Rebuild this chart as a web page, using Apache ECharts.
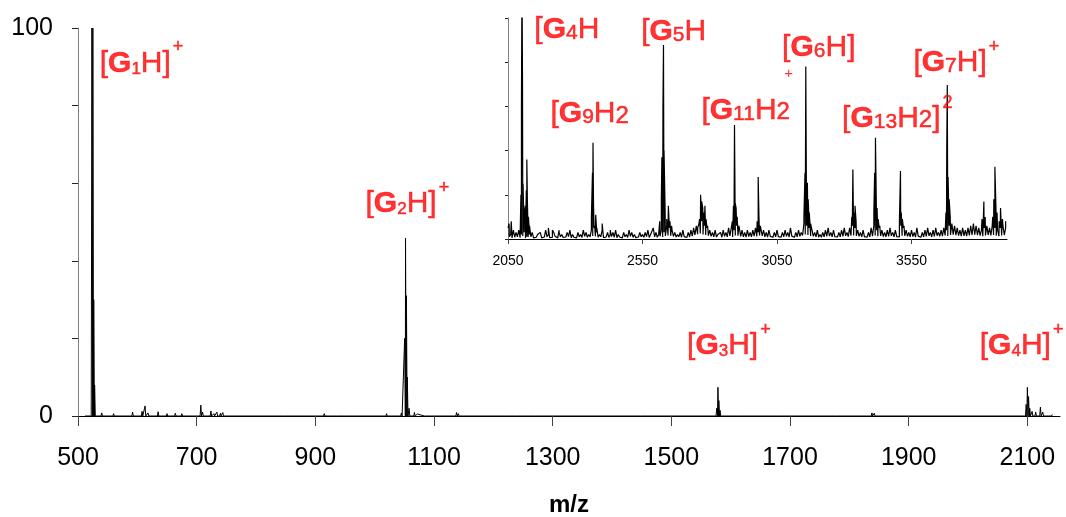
<!DOCTYPE html>
<html>
<head>
<meta charset="utf-8">
<script src="https://cdn.jsdelivr.net/npm/echarts@6/dist/echarts.min.js"></script>
<style>
html, body { margin: 0; padding: 0; background: #fff; }
#chart { width: 1066px; height: 517px; }
</style>
</head>
<body>
<div id="chart"></div>
<script>
// main spectrum, stick peaks: [m/z, relative intensity %]
let mainPeaks = [
    [513, 0.5], [523.5, 100], [525, 100], [526.5, 30], [528, 8], [540, 0.8], [552, 0.4], [560, 0.6],
    [575, 0.3], [592, 1.0], [600, 0.5], [608, 1.2], [613, 2.6], [618, 0.8], [635, 1.1], [642, 0.5],
    [650, 0.6], [658, 0.4], [664, 0.7], [670, 0.4], [675, 0.6], [690, 0.3], [707, 2.8], [710, 1.0],
    [724, 1.3], [729, 0.6], [734, 1.0], [740, 0.7], [744, 0.9], [849, 0.3], [891, 0.4], [905, 0.3],
    [915, 0.6], [925, 0.3], [937, 0.5], [950, 0.4], [965, 0.5], [980, 0.3], [1000, 0.5], [1010, 0.4],
    [1020, 0.6], [1030, 0.3], [1045, 0.8], [1050.5, 20], [1052, 45.8], [1053.5, 31], [1055, 10],
    [1058, 2], [1067, 0.9], [1072, 0.5], [1085, 0.4], [1095, 0.3], [1138, 0.9], [1141, 0.6],
    [1188, 0.3], [1222, 0.3], [1240, 0.4], [1255, 0.3], [1272, 0.5], [1317, 0.3], [1404, 0.3],
    [1449, 0.5], [1576.5, 2], [1578.5, 7.4], [1580, 4], [1582, 1.5], [1594, 0.5], [1613, 0.5],
    [1667, 0.4], [1678, 0.5], [1778, 0.3], [1782, 0.3], [1830, 0.4], [1838, 0.8], [1842, 0.7],
    [1914, 0.3], [1934, 0.3], [1976, 0.3], [2013, 0.4], [2020, 0.3], [2030, 0.5], [2038, 0.4],
    [2045, 0.5], [2052, 0.3], [2060, 0.4], [2064, 0.4], [2098, 3], [2100, 7.4], [2102, 5], [2104, 2],
    [2108, 1.2], [2114, 1.0], [2122, 2.3], [2126, 1.0], [2134, 0.5], [2142, 0.4]
];
let mainXTicks = [500, 700, 900, 1100, 1300, 1500, 1700, 1900, 2100];
let mainYTicks = [0, 20, 40, 60, 80, 100];
let mainYLabels = [0, 100];

// zoomed inset 2050 - 3900
let insetXTicks = [2050, 2550, 3050, 3550];
let insetYTicks = [0, 20, 40, 60, 80, 100];
let noiseStart = 2050;
let noiseStep = 10;
// noise tops, one every 10 m/z
let insetNoise = [
    5, 2, 1, 3, 4, 2, 3, 1, 2, 3,
    1, 2, 3, 1, 4, 2, 1, 3, 2, 4,
    2, 1, 3, 4, 2, 1, 3, 2, 4, 3,
    2, 4, 5, 3, 2, 4, 1, 3, 2, 3,
    4, 2, 1, 3, 2, 4, 3, 2, 1, 3,
    2, 3, 4, 2, 5, 3, 2, 4, 3, 6,
    5, 4, 3, 2, 3, 4, 2, 3, 4, 5,
    6, 7, 8, 6, 5, 4, 3, 4, 2, 3,
    4, 3, 5, 2, 4, 6, 5, 4, 3, 4,
    3, 4, 5, 3, 6, 4, 3, 4, 2, 3,
    4, 2, 3, 4, 3, 5, 2, 3, 4, 3,
    7, 6, 5, 4, 3, 4, 2, 3, 4, 5,
    3, 4, 2, 3, 4, 5, 3, 5, 6, 5,
    4, 3, 4, 2, 3, 5, 6, 4, 5, 4,
    3, 4, 5, 3, 4, 2, 6, 5, 4, 3,
    4, 3, 5, 2, 3, 4, 5, 3, 4, 5,
    3, 4, 5, 4, 6, 7, 6, 5, 4, 5,
    4, 5, 6, 7, 6, 5, 4, 5, 6, 5,
    6, 5, 4, 5, 6, 5
];
// noise valleys, halfway between the tops
let insetNoiseLow = [
    1, 0.5, 0.8, 1, 0.6, 1.2, 0.4, 0.9, 1, 0.5,
    0.8, 1.1, 0.5, 0.9, 1, 0.6, 0.8, 1.2, 0.5, 1,
    0.7, 0.9, 1.1, 0.6, 0.8, 0.5, 1, 0.7, 1.2, 0.8,
    1, 1.4, 1.2, 0.8, 1, 0.6, 0.9, 0.7, 1.1, 0.8,
    0.6, 0.9, 0.5, 1, 0.7, 1.2, 0.8, 0.6, 0.9, 1,
    0.8, 1.1, 0.7, 1.3, 1, 0.8, 1.2, 0.9, 1.4, 1.6,
    1.5, 1.2, 0.9, 1, 0.8, 1.1, 0.7, 1, 1.3, 1.8,
    2.2, 2.5, 2, 1.8, 1.5, 1.2, 1, 0.9, 1.1, 0.8,
    1.2, 1, 1.4, 0.9, 1.6, 1.5, 1.2, 1, 0.9, 1.1,
    1, 1.3, 1.2, 1.6, 1.4, 1, 0.9, 1.2, 0.8, 1,
    1.1, 0.8, 1, 1.2, 0.9, 1.3, 0.8, 1, 1.2, 1.6,
    2, 1.8, 1.4, 1.2, 1, 0.9, 0.8, 1, 1.2, 1.3,
    1, 1.1, 0.9, 1, 1.2, 1.4, 1.1, 1.5, 1.6, 1.4,
    1.2, 1, 1.1, 0.8, 1, 1.3, 1.6, 1.2, 1.4, 1.1,
    1, 1.2, 1.4, 1, 1.1, 0.9, 1.5, 1.4, 1.2, 1,
    1.1, 0.9, 1.3, 0.8, 1, 1.2, 1.4, 1, 1.2, 1.5,
    1.2, 1.3, 1.6, 1.4, 1.8, 2, 1.7, 1.5, 1.3, 1.4,
    1.3, 1.6, 1.8, 2, 1.8, 1.5, 1.3, 1.6, 1.8, 1.6,
    1.8, 1.5, 1.3, 1.6, 1.8
];
let insetPeaks = [
    [2054, 7], [2062, 8], [2070, 4], [2098, 20], [2100, 60], [2102, 120], [2104, 70], [2106, 25],
    [2110, 10], [2114, 15], [2118, 22], [2120, 36], [2122, 18], [2126, 10], [2130, 6],
    [2200, 5], [2215, 4], [2240, 3],
    [2360, 10], [2364, 30], [2366, 43.6], [2368, 15], [2372, 6], [2376, 11], [2380, 5], [2400, 7], [2430, 4],
    [2614, 8], [2620, 18], [2622, 37], [2626, 60], [2628, 87.8], [2630, 40], [2634, 14], [2640, 9],
    [2646, 15], [2652, 8], [2658, 6],
    [2755, 5], [2762, 9], [2766, 20], [2770, 17], [2774, 14], [2778, 12], [2782, 15], [2786, 9], [2792, 6],
    [2884, 8], [2888, 15], [2892, 51.6], [2895, 16], [2898, 14], [2902, 10], [2908, 6],
    [2976, 8], [2980, 28], [2983, 10], [2988, 6],
    [3150, 10], [3154, 30], [3157, 78], [3160, 22], [3163, 25.5], [3166, 18], [3170, 12], [3175, 7],
    [3328, 10], [3332, 31.5], [3336, 12], [3340, 15], [3344, 8],
    [3410, 12], [3413, 30], [3416, 45.8], [3419, 18], [3422, 14], [3426, 9], [3432, 6],
    [3505, 8], [3509, 30.8], [3512, 12], [3516, 9], [3522, 6],
    [3678, 12], [3681, 40], [3683, 69.7], [3686, 28], [3690, 18], [3694, 10], [3700, 7],
    [3812, 9], [3819, 17], [3824, 10],
    [3852, 10], [3856, 18], [3860, 32.7], [3864, 14], [3868, 12], [3876, 8], [3881, 14], [3888, 9], [3900, 8]
];

// peak annotations: text, anchor [m/z, %] = left / bottom of the label
let mainNotes = [
    ['{n|[}{b|G}{s|1}{n|H]}{p|+}', [536.6, 87.0]],
    ['{n|[}{b|G}{s|2}{n|H]}{p|+}', [984.6, 50.8]],
    ['{n|[}{b|G}{s|3}{n|H]}{p|+}', [1526.5, 14.2]],
    ['{n|[}{b|G}{s|4}{n|H]}{p|+}', [2019.8, 14.2]]
];
let insetNotes = [
    ['{n|[}{b|G}{s|4}{n|H}', [2148, 87.9]],
    ['{n|[}{b|G}{s|5}{n|H}', [2545, 87.2]],
    ['{n|[}{b|G}{s|9}{n|H}{t|2}', [2208, 49.8]],
    ['{n|[}{b|G}{s|11}{n|H}{t|2}', [2769, 51.3]],
    ['{n|[}{b|G}{s|6}{n|H]}', [3069, 79.6]],
    ['{n|[}{b|G}{s|7}{n|H]}{p|+}', [3557, 72.8]],
    ['{n|[}{b|G}{s|13}{n|H}{t|2}{n|]}{p|2}', [3292, 47.6]]
];
let insetPlus = [['+', [3093, 74.8]]];

let red = '#ff0000';
let font = 'Liberation Sans, Arial, sans-serif';

function sticks(peaks, w) {
    let out = [];
    peaks.forEach(p => {
        out.push([p[0] - w, 0], [p[0], p[1]], [p[0] + w, 0]);
    });
    return out;
}

function insetLine() {
    let pts = [];
    insetNoise.forEach((v, i) => pts.push([noiseStart + i * noiseStep, v]));
    insetNoiseLow.forEach((v, i) => pts.push([noiseStart + i * noiseStep + noiseStep / 2, v]));
    insetPeaks.forEach(p => pts.push(p));
    pts.sort((a, b) => a[0] - b[0]);
    return pts;
}

function richStyle(subSize) {
    let base = { color: red, fontFamily: font, verticalAlign: 'bottom', textBorderColor: red, textBorderWidth: 0.5 };
    return {
        n: Object.assign({ fontSize: 30 }, base),
        b: Object.assign({ fontSize: 30, fontWeight: 'bold' }, base),
        s: Object.assign({ fontSize: subSize, padding: [0, 0, 1, 0] }, base),
        t: Object.assign({ fontSize: 24, padding: [0, 0, 1, 0] }, base),
        p: Object.assign({ fontSize: 18, padding: [0, 0, 22, 2] }, base)
    };
}

function noteSeries(notes, idx, subSize) {
    return {
        type: 'scatter',
        xAxisIndex: idx,
        yAxisIndex: idx,
        symbolSize: 0,
        silent: true,
        z: 10,
        data: notes.map(n => ({ name: n[0], value: n[1] })),
        label: {
            show: true,
            position: 'right',
            distance: 0,
            align: 'left',
            verticalAlign: 'bottom',
            formatter: p => p.name,
            rich: richStyle(subSize)
        }
    };
}

let plain = v => String(v);

let chart = echarts.init(document.getElementById('chart'));
let option = {
    animation: false,
    textStyle: { fontFamily: font },
    grid: [
        { left: 78, top: 28, right: 6, bottom: 101, outerBoundsMode: 'none', containLabel: false },
        { left: 508, top: 18, right: 59, bottom: 278, outerBoundsMode: 'none', containLabel: false }
    ],
    xAxis: [
        {
            type: 'value', gridIndex: 0, min: 500, max: 2155,
            name: 'm/z', nameLocation: 'middle', nameGap: 77,
            nameTextStyle: { fontSize: 24, fontWeight: 'bold', color: '#000', fontFamily: font },
            splitLine: { show: false },
            axisLine: { lineStyle: { color: '#000', width: 1 } },
            axisTick: { length: 10, lineStyle: { color: '#444' }, customValues: mainXTicks },
            axisLabel: { fontSize: 25, color: '#000', margin: 30, customValues: mainXTicks, formatter: plain }
        },
        {
            type: 'value', gridIndex: 1, min: 2050, max: 3905,
            splitLine: { show: false },
            axisLine: { lineStyle: { color: '#000', width: 1 } },
            axisTick: { length: 5, lineStyle: { color: '#444' }, customValues: insetXTicks },
            axisLabel: { fontSize: 14, color: '#000', margin: 15, customValues: insetXTicks, formatter: plain }
        }
    ],
    yAxis: [
        {
            type: 'value', gridIndex: 0, min: 0, max: 100,
            splitLine: { show: false },
            axisLine: { show: true, lineStyle: { color: '#808080', width: 1 } },
            axisTick: { show: true, length: 6, lineStyle: { color: '#222' }, customValues: mainYTicks },
            axisLabel: { fontSize: 25, color: '#000', margin: 25, customValues: mainYLabels, formatter: plain }
        },
        {
            type: 'value', gridIndex: 1, min: 0, max: 100,
            splitLine: { show: false },
            axisLine: { show: true, lineStyle: { color: '#808080', width: 1 } },
            axisTick: { show: true, length: 3, lineStyle: { color: '#222' }, customValues: insetYTicks },
            axisLabel: { show: false }
        }
    ],
    series: [
        {
            type: 'line', xAxisIndex: 0, yAxisIndex: 0,
            data: sticks(mainPeaks, 1.2),
            showSymbol: false, silent: true,
            lineStyle: { color: '#000', width: 1 }
        },
        {
            type: 'line', xAxisIndex: 1, yAxisIndex: 1,
            data: insetLine(),
            showSymbol: false, silent: true, clip: true,
            lineStyle: { color: '#000', width: 1.2 }
        },
        noteSeries(mainNotes, 0, 17),
        noteSeries(insetNotes, 1, 21),
        {
            type: 'scatter', xAxisIndex: 1, yAxisIndex: 1,
            symbolSize: 0, silent: true, z: 10,
            data: insetPlus.map(n => ({ name: n[0], value: n[1] })),
            label: {
                show: true, position: 'inside', formatter: p => p.name,
                fontSize: 15, color: red, fontFamily: font, textBorderWidth: 0
            }
        }
    ]
};
chart.setOption(option);
</script>
</body>
</html>
